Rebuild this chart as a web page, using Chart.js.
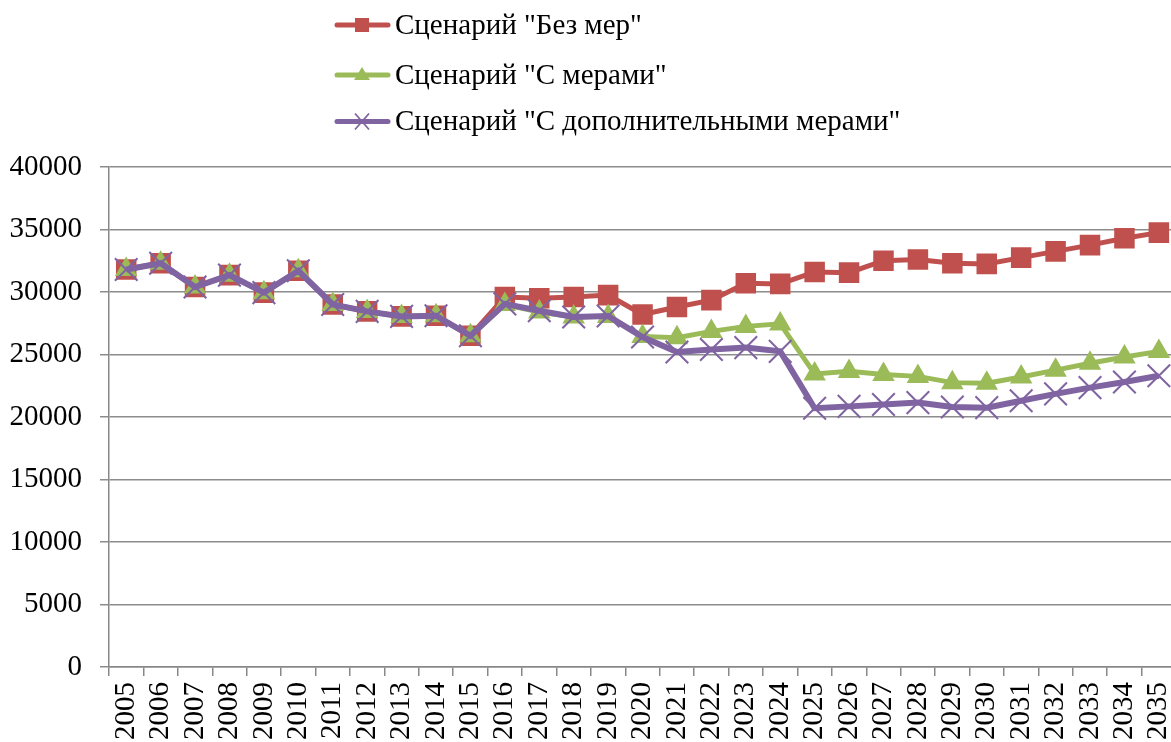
<!DOCTYPE html>
<html>
<head>
<meta charset="utf-8">
<script src="https://cdn.jsdelivr.net/npm/chart.js@4/dist/chart.umd.min.js"></script>
<style>
  html, body { margin: 0; padding: 0; background: #fff; overflow: hidden; width: 1171px; height: 742px; }
  #wrap { position: absolute; left: 0; top: 0; width: 1200px; height: 770px; }
</style>
</head>
<body>
<div id="wrap"><canvas id="c" width="1200" height="770"></canvas></div>
<script>
const years = ['2005','2006','2007','2008','2009','2010','2011','2012','2013','2014','2015','2016','2017','2018','2019','2020','2021','2022','2023','2024','2025','2026','2027','2028','2029','2030','2031','2032','2033','2034','2035'];
const noMeasures = [31800,32300,30400,31350,29950,31700,29000,28450,28050,28100,26500,29600,29500,29600,29750,28200,28800,29350,30700,30650,31600,31550,32500,32600,32300,32250,32750,33250,33750,34300,34750];
const withMeasures = [31800,32300,30400,31350,29950,31700,29000,28450,28050,28100,26500,29000,28400,28000,28050,26450,26350,26850,27250,27450,23450,23650,23400,23250,22750,22700,23200,23750,24300,24800,25250];
const extraMeasures = [31800,32300,30400,31350,29950,31700,29000,28450,28050,28100,26500,29050,28500,28000,28080,26400,25200,25400,25550,25250,20700,20850,21000,21150,20800,20750,21300,21850,22350,22800,23300];
const seriesLabels = ['Сценарий "Без мер"', 'Сценарий "С мерами"', 'Сценарий "С дополнительными мерами"'];
const yTicks = [0,5000,10000,15000,20000,25000,30000,35000,40000];

const RED = '#C0504D', GREEN = '#9BBB59', PURPLE = '#8064A2';
const FONT = '"Liberation Serif", "Times New Roman", serif';

const legendPlugin = {
  id: 'customLegend',
  afterDraw(chart) {
    const ctx = chart.ctx;
    const rows = [25, 75, 121.5];
    chart.data.datasets.forEach((ds, i) => {
      const y = rows[i];
      ctx.save();
      ctx.strokeStyle = ds.borderColor;
      ctx.lineWidth = 5;
      ctx.lineCap = 'round';
      ctx.beginPath();
      ctx.moveTo(337, y); ctx.lineTo(388, y);
      ctx.stroke();
      const cx = 362;
      if (ds.pointStyle === 'rect') {
        ctx.fillStyle = ds.pointBackgroundColor;
        ctx.fillRect(cx - 7, y - 7, 14, 14);
      } else if (ds.pointStyle === 'triangle') {
        ctx.fillStyle = ds.pointBackgroundColor;
        ctx.beginPath();
        ctx.moveTo(cx, y - 8); ctx.lineTo(cx + 8, y + 5); ctx.lineTo(cx - 8, y + 5);
        ctx.closePath(); ctx.fill();
      } else {
        ctx.strokeStyle = ds.pointBorderColor;
        ctx.lineWidth = 1.8;
        ctx.lineCap = 'butt';
        ctx.beginPath();
        ctx.moveTo(cx - 7, y - 8); ctx.lineTo(cx + 7, y + 8);
        ctx.moveTo(cx + 7, y - 8); ctx.lineTo(cx - 7, y + 8);
        ctx.stroke();
      }
      ctx.fillStyle = '#000';
      ctx.font = '29px ' + FONT;
      ctx.textBaseline = 'middle';
      ctx.textAlign = 'left';
      ctx.fillText(ds.label, 395, y + 1);
      ctx.restore();
    });
  }
};

new Chart(document.getElementById('c'), {
  type: 'line',
  data: {
    labels: years,
    datasets: [
      { label: seriesLabels[0], data: noMeasures, borderColor: RED, backgroundColor: RED, pointBackgroundColor: RED, pointBorderColor: RED,
        borderWidth: 5, pointStyle: 'rect', pointRadius: 14.5, pointBorderWidth: 0, order: 2, tension: 0 },
      { label: seriesLabels[1], data: withMeasures, borderColor: GREEN, backgroundColor: GREEN, pointBackgroundColor: GREEN, pointBorderColor: GREEN,
        borderWidth: 5, pointStyle: 'triangle', pointRadius: 13, pointBorderWidth: 0, order: 1, tension: 0 },
      { label: seriesLabels[2], data: extraMeasures, borderColor: PURPLE, backgroundColor: PURPLE, pointBackgroundColor: PURPLE, pointBorderColor: PURPLE,
        borderWidth: 6, pointStyle: 'crossRot', pointRadius: 16, pointBorderWidth: 2, order: 0, tension: 0 }
    ]
  },
  options: {
    responsive: false,
    animation: false,
    devicePixelRatio: 1,
    layout: { padding: { top: 167, right: 21, left: 0, bottom: 0 } },
    plugins: { legend: { display: false }, tooltip: { enabled: false } },
    scales: {
      x: {
        offset: true,
        grid: { offset: true, drawOnChartArea: false, drawTicks: true, tickLength: 9, color: '#888', lineWidth: 1.5 },
        border: { display: true, color: '#888', width: 1.5 },
        ticks: { autoSkip: false, maxRotation: 90, minRotation: 90, color: '#000', padding: 6, font: { family: FONT, size: 29 } },
        afterFit(s) { s.height = 770 - 667; }
      },
      y: {
        min: 0, max: 40000,
        afterBuildTicks(s) { s.ticks = yTicks.map(v => ({ value: v })); },
        grid: { drawTicks: true, tickLength: 9, color: '#8c8c8c', lineWidth: 1.5 },
        border: { display: true, color: '#888', width: 1.5 },
        ticks: { color: '#000', padding: 18, font: { family: FONT, size: 29 }, callback: v => String(v) },
        afterFit(s) { s.width = 109; }
      }
    }
  },
  plugins: [legendPlugin]
});
</script>
</body>
</html>
